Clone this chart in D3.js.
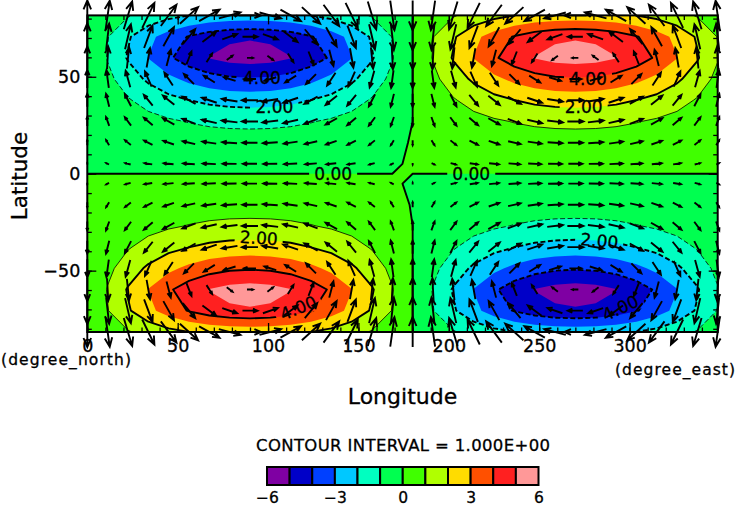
<!DOCTYPE html>
<html>
<head>
<meta charset="utf-8">
<script src="https://cdn.jsdelivr.net/npm/d3@7"></script>
<style>
  html, body { margin: 0; padding: 0; background: #fff; }
  text { font-family: "DejaVu Sans", sans-serif; fill: #000; stroke: #000; stroke-width: 0.3px; }
</style>
</head>
<body>
<svg id="chart"></svg>
<script>
var lons = [0,11.25,22.5,33.75,45,56.25,67.5,78.75,90,101.25,112.5,123.75,135,146.25,157.5,168.75,180,191.25,202.5,213.75,225,236.25,247.5,258.75,270,281.25,292.5,303.75,315,326.25,337.5,348.75];
var lats = [81.65,70.63,59.74,48.81,37.88,26.95,16.0,5.1,-5.1,-16.0,-26.95,-37.88,-48.81,-59.74,-70.63,-81.65];

// contoured field, north row first
var field = [
[0,-.47,-.92,-1.33,-1.7,-1.99,-2.22,-2.35,-2.4,-2.35,-2.22,-1.99,-1.7,-1.33,-.92,-.47,0,.47,.92,1.33,1.7,1.99,2.22,2.35,2.4,2.35,2.22,1.99,1.7,1.33,.92,.47],
[0,-.96,-1.88,-2.72,-3.46,-4.07,-4.53,-4.81,-4.9,-4.81,-4.53,-4.07,-3.46,-2.72,-1.88,-.96,0,.96,1.88,2.72,3.46,4.07,4.53,4.81,4.9,4.81,4.53,4.07,3.46,2.72,1.88,.96],
[0,-1.06,-2.09,-3.03,-3.85,-4.53,-5.04,-5.35,-5.45,-5.35,-5.04,-4.53,-3.85,-3.03,-2.09,-1.06,0,1.06,2.09,3.03,3.85,4.53,5.04,5.35,5.45,5.35,5.04,4.53,3.85,3.03,2.09,1.06],
[0,-.76,-1.49,-2.17,-2.76,-3.24,-3.6,-3.83,-3.9,-3.83,-3.6,-3.24,-2.76,-2.17,-1.49,-.76,0,.76,1.49,2.17,2.76,3.24,3.6,3.83,3.9,3.83,3.6,3.24,2.76,2.17,1.49,.76],
[0,-.47,-.92,-1.33,-1.7,-1.99,-2.22,-2.35,-2.4,-2.35,-2.22,-1.99,-1.7,-1.33,-.92,-.47,0,.47,.92,1.33,1.7,1.99,2.22,2.35,2.4,2.35,2.22,1.99,1.7,1.33,.92,.47],
[0,-.24,-.48,-.7,-.88,-1.04,-1.16,-1.23,-1.25,-1.23,-1.16,-1.04,-.88,-.7,-.48,-.24,0,.24,.48,.7,.88,1.04,1.16,1.23,1.25,1.23,1.16,1.04,.88,.7,.48,.24],
[0,-.11,-.21,-.31,-.39,-.46,-.51,-.54,-.55,-.54,-.51,-.46,-.39,-.31,-.21,-.1,.03,.11,.21,.31,.39,.46,.51,.54,.55,.54,.51,.46,.39,.31,.21,.11],
[-.01,-.04,-.07,-.1,-.13,-.15,-.17,-.18,-.18,-.18,-.17,-.15,-.13,-.1,-.07,-.04,.04,.04,.07,.1,.13,.15,.17,.18,.18,.18,.17,.15,.13,.1,.07,.04],
[.01,.04,.07,.1,.13,.15,.17,.18,.18,.18,.17,.15,.13,.1,.07,.04,-.04,-.04,-.07,-.1,-.13,-.15,-.17,-.18,-.18,-.18,-.17,-.15,-.13,-.1,-.07,-.04],
[.01,.11,.21,.31,.39,.46,.51,.54,.55,.54,.51,.46,.39,.31,.21,.11,-.02,-.11,-.21,-.31,-.39,-.46,-.51,-.54,-.55,-.54,-.51,-.46,-.39,-.31,-.21,-.11],
[.01,.24,.48,.7,.88,1.04,1.16,1.23,1.25,1.23,1.16,1.04,.88,.7,.48,.24,0,-.24,-.48,-.7,-.88,-1.04,-1.16,-1.23,-1.25,-1.23,-1.16,-1.04,-.88,-.7,-.48,-.24],
[.01,.47,.92,1.33,1.7,1.99,2.22,2.35,2.4,2.35,2.22,1.99,1.7,1.33,.92,.47,0,-.47,-.92,-1.33,-1.7,-1.99,-2.22,-2.35,-2.4,-2.35,-2.22,-1.99,-1.7,-1.33,-.92,-.47],
[.01,.76,1.49,2.17,2.76,3.24,3.6,3.83,3.9,3.83,3.6,3.24,2.76,2.17,1.49,.76,0,-.76,-1.49,-2.17,-2.76,-3.24,-3.6,-3.83,-3.9,-3.83,-3.6,-3.24,-2.76,-2.17,-1.49,-.76],
[.01,1.06,2.09,3.03,3.85,4.53,5.04,5.35,5.45,5.35,5.04,4.53,3.85,3.03,2.09,1.06,0,-1.06,-2.09,-3.03,-3.85,-4.53,-5.04,-5.35,-5.45,-5.35,-5.04,-4.53,-3.85,-3.03,-2.09,-1.06],
[.01,.96,1.88,2.72,3.46,4.07,4.53,4.81,4.9,4.81,4.53,4.07,3.46,2.72,1.88,.96,0,-.96,-1.88,-2.72,-3.46,-4.07,-4.53,-4.81,-4.9,-4.81,-4.53,-4.07,-3.46,-2.72,-1.88,-.96],
[.01,.47,.92,1.33,1.7,1.99,2.22,2.35,2.4,2.35,2.22,1.99,1.7,1.33,.92,.47,0,-.47,-.92,-1.33,-1.7,-1.99,-2.22,-2.35,-2.4,-2.35,-2.22,-1.99,-1.7,-1.33,-.92,-.47]
];

// vector components, same grid
var uWind = [
[0,2.1,4.2,6.1,7.8,9.1,10.2,10.8,11,10.8,10.2,9.1,7.8,6.1,4.2,2.1,0,-2.1,-4.2,-6.1,-7.8,-9.1,-10.2,-10.8,-11,-10.8,-10.2,-9.1,-7.8,-6.1,-4.2,-2.1],
[0,1.5,2.9,4.2,5.3,6.2,6.9,7.4,7.5,7.4,6.9,6.2,5.3,4.2,2.9,1.5,0,-1.5,-2.9,-4.2,-5.3,-6.2,-6.9,-7.4,-7.5,-7.4,-6.9,-6.2,-5.3,-4.2,-2.9,-1.5],
[0,.6,1.1,1.7,2.1,2.5,2.8,2.9,3,2.9,2.8,2.5,2.1,1.7,1.1,.6,0,-.6,-1.1,-1.7,-2.1,-2.5,-2.8,-2.9,-3,-2.9,-2.8,-2.5,-2.1,-1.7,-1.1,-.6],
[0,-1.2,-2.3,-3.3,-4.2,-5,-5.5,-5.9,-6,-5.9,-5.5,-5,-4.2,-3.3,-2.3,-1.2,0,1.2,2.3,3.3,4.2,5,5.5,5.9,6,5.9,5.5,5,4.2,3.3,2.3,1.2],
[0,-1.6,-3.1,-4.4,-5.7,-6.6,-7.4,-7.8,-8,-7.8,-7.4,-6.6,-5.7,-4.4,-3.1,-1.6,0,1.6,3.1,4.4,5.7,6.6,7.4,7.8,8,7.8,7.4,6.6,5.7,4.4,3.1,1.6],
[0,-1.6,-3.1,-4.4,-5.7,-6.6,-7.4,-7.8,-8,-7.8,-7.4,-6.6,-5.7,-4.4,-3.1,-1.6,0,1.6,3.1,4.4,5.7,6.6,7.4,7.8,8,7.8,7.4,6.6,5.7,4.4,3.1,1.6],
[0,-1.5,-2.9,-4.2,-5.3,-6.2,-6.9,-7.4,-7.5,-7.4,-6.9,-6.2,-5.3,-4.2,-2.9,-1.5,0,1.5,2.9,4.2,5.3,6.2,6.9,7.4,7.5,7.4,6.9,6.2,5.3,4.2,2.9,1.5],
[0,-1.4,-2.7,-3.9,-4.9,-5.8,-6.5,-6.9,-7,-6.9,-6.5,-5.8,-4.9,-3.9,-2.7,-1.4,0,1.4,2.7,3.9,4.9,5.8,6.5,6.9,7,6.9,6.5,5.8,4.9,3.9,2.7,1.4],
[0,-1.4,-2.7,-3.9,-4.9,-5.8,-6.5,-6.9,-7,-6.9,-6.5,-5.8,-4.9,-3.9,-2.7,-1.4,0,1.4,2.7,3.9,4.9,5.8,6.5,6.9,7,6.9,6.5,5.8,4.9,3.9,2.7,1.4],
[0,-1.5,-2.9,-4.2,-5.3,-6.2,-6.9,-7.4,-7.5,-7.4,-6.9,-6.2,-5.3,-4.2,-2.9,-1.5,0,1.5,2.9,4.2,5.3,6.2,6.9,7.4,7.5,7.4,6.9,6.2,5.3,4.2,2.9,1.5],
[0,-1.6,-3.1,-4.4,-5.7,-6.6,-7.4,-7.8,-8,-7.8,-7.4,-6.6,-5.7,-4.4,-3.1,-1.6,0,1.6,3.1,4.4,5.7,6.6,7.4,7.8,8,7.8,7.4,6.6,5.7,4.4,3.1,1.6],
[0,-1.6,-3.1,-4.4,-5.7,-6.6,-7.4,-7.8,-8,-7.8,-7.4,-6.6,-5.7,-4.4,-3.1,-1.6,0,1.6,3.1,4.4,5.7,6.6,7.4,7.8,8,7.8,7.4,6.6,5.7,4.4,3.1,1.6],
[0,-1.2,-2.3,-3.3,-4.2,-5,-5.5,-5.9,-6,-5.9,-5.5,-5,-4.2,-3.3,-2.3,-1.2,0,1.2,2.3,3.3,4.2,5,5.5,5.9,6,5.9,5.5,5,4.2,3.3,2.3,1.2],
[0,.6,1.1,1.7,2.1,2.5,2.8,2.9,3,2.9,2.8,2.5,2.1,1.7,1.1,.6,0,-.6,-1.1,-1.7,-2.1,-2.5,-2.8,-2.9,-3,-2.9,-2.8,-2.5,-2.1,-1.7,-1.1,-.6],
[0,1.5,2.9,4.2,5.3,6.2,6.9,7.4,7.5,7.4,6.9,6.2,5.3,4.2,2.9,1.5,0,-1.5,-2.9,-4.2,-5.3,-6.2,-6.9,-7.4,-7.5,-7.4,-6.9,-6.2,-5.3,-4.2,-2.9,-1.5],
[0,2.1,4.2,6.1,7.8,9.1,10.2,10.8,11,10.8,10.2,9.1,7.8,6.1,4.2,2.1,0,-2.1,-4.2,-6.1,-7.8,-9.1,-10.2,-10.8,-11,-10.8,-10.2,-9.1,-7.8,-6.1,-4.2,-2.1]
];
var vWind = [
[15,14.7,13.9,12.5,10.6,8.3,5.7,2.9,0,-2.9,-5.7,-8.3,-10.6,-12.5,-13.9,-14.7,-15,-14.7,-13.9,-12.5,-10.6,-8.3,-5.7,-2.9,0,2.9,5.7,8.3,10.6,12.5,13.9,14.7],
[13.5,13.2,12.5,11.2,9.5,7.5,5.2,2.6,0,-2.6,-5.2,-7.5,-9.5,-11.2,-12.5,-13.2,-13.5,-13.2,-12.5,-11.2,-9.5,-7.5,-5.2,-2.6,0,2.6,5.2,7.5,9.5,11.2,12.5,13.2],
[11.5,11.3,10.6,9.6,8.1,6.4,4.4,2.2,0,-2.2,-4.4,-6.4,-8.1,-9.6,-10.6,-11.3,-11.5,-11.3,-10.6,-9.6,-8.1,-6.4,-4.4,-2.2,0,2.2,4.4,6.4,8.1,9.6,10.6,11.3],
[9,8.8,8.3,7.5,6.4,5,3.4,1.8,0,-1.8,-3.4,-5,-6.4,-7.5,-8.3,-8.8,-9,-8.8,-8.3,-7.5,-6.4,-5,-3.4,-1.8,0,1.8,3.4,5,6.4,7.5,8.3,8.8],
[6.5,6.4,6,5.4,4.6,3.6,2.5,1.3,0,-1.3,-2.5,-3.6,-4.6,-5.4,-6,-6.4,-6.5,-6.4,-6,-5.4,-4.6,-3.6,-2.5,-1.3,0,1.3,2.5,3.6,4.6,5.4,6,6.4],
[4.5,4.4,4.2,3.7,3.2,2.5,1.7,.9,0,-.9,-1.7,-2.5,-3.2,-3.7,-4.2,-4.4,-4.5,-4.4,-4.2,-3.7,-3.2,-2.5,-1.7,-.9,0,.9,1.7,2.5,3.2,3.7,4.2,4.4],
[2.5,2.5,2.3,2.1,1.8,1.4,1,.5,0,-.5,-1,-1.4,-1.8,-2.1,-2.3,-2.5,-2.5,-2.5,-2.3,-2.1,-1.8,-1.4,-1,-.5,0,.5,1,1.4,1.8,2.1,2.3,2.5],
[.8,.7,.7,.6,.5,.4,.3,.1,0,-.1,-.3,-.4,-.5,-.6,-.7,-.7,-.8,-.7,-.7,-.6,-.5,-.4,-.3,-.1,0,.1,.3,.4,.5,.6,.7,.7],
[-.8,-.7,-.7,-.6,-.5,-.4,-.3,-.1,0,.1,.3,.4,.5,.6,.7,.7,.8,.7,.7,.6,.5,.4,.3,.1,0,-.1,-.3,-.4,-.5,-.6,-.7,-.7],
[-2.5,-2.5,-2.3,-2.1,-1.8,-1.4,-1,-.5,0,.5,1,1.4,1.8,2.1,2.3,2.5,2.5,2.5,2.3,2.1,1.8,1.4,1,.5,0,-.5,-1,-1.4,-1.8,-2.1,-2.3,-2.5],
[-4.5,-4.4,-4.2,-3.7,-3.2,-2.5,-1.7,-.9,0,.9,1.7,2.5,3.2,3.7,4.2,4.4,4.5,4.4,4.2,3.7,3.2,2.5,1.7,.9,0,-.9,-1.7,-2.5,-3.2,-3.7,-4.2,-4.4],
[-6.5,-6.4,-6,-5.4,-4.6,-3.6,-2.5,-1.3,0,1.3,2.5,3.6,4.6,5.4,6,6.4,6.5,6.4,6,5.4,4.6,3.6,2.5,1.3,0,-1.3,-2.5,-3.6,-4.6,-5.4,-6,-6.4],
[-9,-8.8,-8.3,-7.5,-6.4,-5,-3.4,-1.8,0,1.8,3.4,5,6.4,7.5,8.3,8.8,9,8.8,8.3,7.5,6.4,5,3.4,1.8,0,-1.8,-3.4,-5,-6.4,-7.5,-8.3,-8.8],
[-11.5,-11.3,-10.6,-9.6,-8.1,-6.4,-4.4,-2.2,0,2.2,4.4,6.4,8.1,9.6,10.6,11.3,11.5,11.3,10.6,9.6,8.1,6.4,4.4,2.2,0,-2.2,-4.4,-6.4,-8.1,-9.6,-10.6,-11.3],
[-13.5,-13.2,-12.5,-11.2,-9.5,-7.5,-5.2,-2.6,0,2.6,5.2,7.5,9.5,11.2,12.5,13.2,13.5,13.2,12.5,11.2,9.5,7.5,5.2,2.6,0,-2.6,-5.2,-7.5,-9.5,-11.2,-12.5,-13.2],
[-15,-14.7,-13.9,-12.5,-10.6,-8.3,-5.7,-2.9,0,2.9,5.7,8.3,10.6,12.5,13.9,14.7,15,14.7,13.9,12.5,10.6,8.3,5.7,2.9,0,-2.9,-5.7,-8.3,-10.6,-12.5,-13.9,-14.7]
];

// top of each colour band, and the colour below it
var levels = [-5,-4,-3,-2,-1,0,1,2,3,4,5];
var lineLevels = [-4,-2,-1,0,1,2,4];
var bandEdges = [-6,-5,-4,-3,-2,-1,0,1,2,3,4,5,6];
var bandColors = ["#7f00a3","#0000c8","#0040ff","#00c8ff","#00ffc0","#00ff50","#40ff00","#b0ff00","#ffdc00","#ff5000","#ff2020","#ff9898"];
var barTicks = [-6,-3,0,3,6];

// contour labels: lon, lat, text, tilt
var contourLabels = [
  [136,0,"0.00",0],[212.4,0,"0.00",0],
  [96.6,49.3,"4.00",0],[103.5,34.5,"2.00",0],
  [277,48.7,"4.00",0],[274.6,34.4,"2.00",0],
  [94.9,-33.1,"2.00",4],[116.7,-69.2,"4.00",-22],
  [283.3,-34.5,"2.00",5],[294.9,-69.2,"4.00",-25]
];

var svgW = 737, svgH = 505;
var svg = d3.select("#chart").attr("width", svgW).attr("height", svgH).style("display", "block");

var x = d3.scaleLinear().domain([0, 348.75]).range([87.3, 717.7]);
var y = d3.scaleLinear().domain([-81.65, 81.65]).range([332, 15.4]);
var nx = lons.length, ny = lats.length;

// d3.contours puts sample i at i + 0.5
var cellLon = d3.scaleLinear().domain(d3.range(nx).map(function(i){ return i + 0.5; })).range(lons);
var cellLat = d3.scaleLinear().domain(d3.range(ny).map(function(i){ return i + 0.5; })).range(lats);
var path = d3.geoPath(d3.geoTransform({
  point: function(px, py) { this.stream.point(x(cellLon(px)), y(cellLat(py))); }
}));

var defs = svg.append("defs");
defs.append("clipPath").attr("id", "plotClip").append("rect")
  .attr("x", x(0)).attr("y", y(81.65))
  .attr("width", x(348.75) - x(0)).attr("height", y(-81.65) - y(81.65));

var mask = defs.append("mask").attr("id", "labelGaps").attr("maskUnits", "userSpaceOnUse")
  .attr("x", 0).attr("y", 0).attr("width", svgW).attr("height", svgH);
mask.append("rect").attr("width", svgW).attr("height", svgH).attr("fill", "#fff");
mask.selectAll("rect.gap").data(contourLabels).enter().append("rect")
  .attr("class", "gap")
  .attr("x", -24).attr("y", -9).attr("width", 48).attr("height", 18)
  .attr("fill", "#000")
  .attr("transform", function(d){ return "translate(" + x(d[0]) + "," + y(d[1]) + ") rotate(" + d[3] + ")"; });

// negated so the saddle at the centre joins the same way as the reference
var contours = d3.contours().size([nx, ny]);
var negated = d3.merge(field).map(function(v){ return -v; });

var plot = svg.append("g").attr("clip-path", "url(#plotClip)");
plot.append("rect")
  .attr("x", x(0)).attr("y", y(81.65))
  .attr("width", x(348.75) - x(0)).attr("height", y(-81.65) - y(81.65))
  .attr("fill", bandColors[bandColors.length - 1]);

levels.slice().reverse().forEach(function(t) {
  plot.append("path")
    .attr("d", path(contours.contour(negated, -t)))
    .attr("fill", bandColors[levels.indexOf(t)]);
});

var lineLayer = plot.append("g").attr("mask", "url(#labelGaps)");
lineLevels.forEach(function(t) {
  var major = t % 2 === 0;
  lineLayer.append("path")
    .attr("d", path(contours.contour(negated, -t)))
    .attr("fill", "none")
    .attr("stroke", "#000")
    .attr("stroke-width", major ? 1.9 : 0.8)
    .attr("stroke-linejoin", "round")
    .attr("stroke-dasharray", t < 0 ? "5 2.5" : null);
});

svg.append("g").selectAll("text").data(contourLabels).enter().append("text")
  .attr("text-anchor", "middle").attr("dy", "0.36em")
  .attr("font-size", 17)
  .attr("transform", function(d){ return "translate(" + x(d[0]) + "," + y(d[1]) + ") rotate(" + d[3] + ")"; })
  .text(function(d){ return d[2]; });

// frame and ticks
var xMajor = [0,50,100,150,200,250,300];
var xMinor = d3.range(0, 341, 10);
var yMajor = [-50,0,50];
var yMinor = d3.range(-80, 81, 10);

function styleAxis(g) {
  g.selectAll(".domain").remove();
  g.selectAll("line").attr("stroke", "#000").attr("stroke-width", 1.3);
  g.selectAll("text").attr("font-size", 17.5).attr("font-family", null).attr("fill", null);
}
function noLabels(g) { g.selectAll("text").remove(); }

[[d3.axisBottom, y(-81.65), true], [d3.axisTop, y(81.65), false]].forEach(function(a) {
  svg.append("g").attr("transform", "translate(0," + a[1] + ")")
    .call(a[0](x).tickValues(xMinor).tickSize(-4.5).tickFormat("")).call(styleAxis).call(noLabels);
  var g = svg.append("g").attr("transform", "translate(0," + a[1] + ")")
    .call(a[0](x).tickValues(xMajor).tickSize(-9).tickPadding(8).tickFormat(d3.format("d"))).call(styleAxis);
  if (!a[2]) g.call(noLabels);
});
[[d3.axisLeft, x(0), true], [d3.axisRight, x(348.75), false]].forEach(function(a) {
  svg.append("g").attr("transform", "translate(" + a[1] + ",0)")
    .call(a[0](y).tickValues(yMinor).tickSize(-4.5).tickFormat("")).call(styleAxis).call(noLabels);
  var g = svg.append("g").attr("transform", "translate(" + a[1] + ",0)")
    .call(a[0](y).tickValues(yMajor).tickSize(-9).tickPadding(7).tickFormat(d3.format("d"))).call(styleAxis);
  if (!a[2]) g.call(noLabels);
});

svg.append("rect")
  .attr("x", x(0)).attr("y", y(81.65))
  .attr("width", x(348.75) - x(0)).attr("height", y(-81.65) - y(81.65))
  .attr("fill", "none").attr("stroke", "#000").attr("stroke-width", 2);

// arrows, centred on the grid point
var arrowLen = d3.scaleLinear().domain([0, 15]).range([0, 30]);
var arrows = [];
lats.forEach(function(lat, j) {
  lons.forEach(function(lon, i) {
    arrows.push({lon: lon, lat: lat, u: uWind[j][i], v: vWind[j][i]});
  });
});

function arrowPath(d) {
  var dx = arrowLen(d.u), dy = -arrowLen(d.v);
  var len = Math.sqrt(dx * dx + dy * dy);
  var cx = x(d.lon), cy = y(d.lat);
  if (len === 0) return "";
  var ux = dx / len, uy = dy / len;
  var tipX = cx + dx / 2, tipY = cy + dy / 2;
  var head = len * 0.3, side = head * 0.42;
  return "M" + (cx - dx / 2) + "," + (cy - dy / 2) + "L" + tipX + "," + tipY +
    "M" + (tipX - head * ux - side * uy) + "," + (tipY - head * uy + side * ux) +
    "L" + tipX + "," + tipY +
    "L" + (tipX - head * ux + side * uy) + "," + (tipY - head * uy - side * ux);
}

svg.append("g").selectAll("path").data(arrows).enter().append("path")
  .attr("d", arrowPath)
  .attr("fill", "none").attr("stroke", "#000").attr("stroke-width", 1.9)
  .attr("stroke-linejoin", "miter");

// axis names
svg.append("text").attr("x", 402.5).attr("y", 404).attr("text-anchor", "middle")
  .attr("font-size", 22).text("Longitude");
svg.append("text").attr("transform", "translate(27,176) rotate(-90)").attr("text-anchor", "middle")
  .attr("font-size", 21.5).text("Latitude");
svg.append("text").attr("x", 1).attr("y", 365).attr("font-size", 15.5)
  .attr("textLength", 130).text("(degree_north)");
svg.append("text").attr("x", 615).attr("y", 375).attr("font-size", 15.5)
  .attr("textLength", 120).text("(degree_east)");
svg.append("text").attr("x", 256).attr("y", 450.5).attr("font-size", 16.5)
  .attr("textLength", 294).text("CONTOUR INTERVAL = 1.000E+00");

// colour bar
var barX = d3.scaleLinear().domain([-6, 6]).range([267, 538.5]);
var barTop = 467, barBottom = 485;
var bar = svg.append("g");
bar.selectAll("rect").data(bandColors).enter().append("rect")
  .attr("x", function(d, i){ return barX(bandEdges[i]); })
  .attr("y", barTop)
  .attr("width", function(d, i){ return barX(bandEdges[i + 1]) - barX(bandEdges[i]); })
  .attr("height", barBottom - barTop)
  .attr("fill", function(d){ return d; })
  .attr("stroke", "#000").attr("stroke-width", 2);

var barAxis = svg.append("g").attr("transform", "translate(0," + barBottom + ")")
  .call(d3.axisBottom(barX).tickValues(barTicks).tickSize(0).tickPadding(7).tickFormat(d3.format("d")));
barAxis.select(".domain").remove();
barAxis.selectAll("text").attr("font-size", 15.5).attr("font-family", null).attr("fill", null);
</script>
</body>
</html>
